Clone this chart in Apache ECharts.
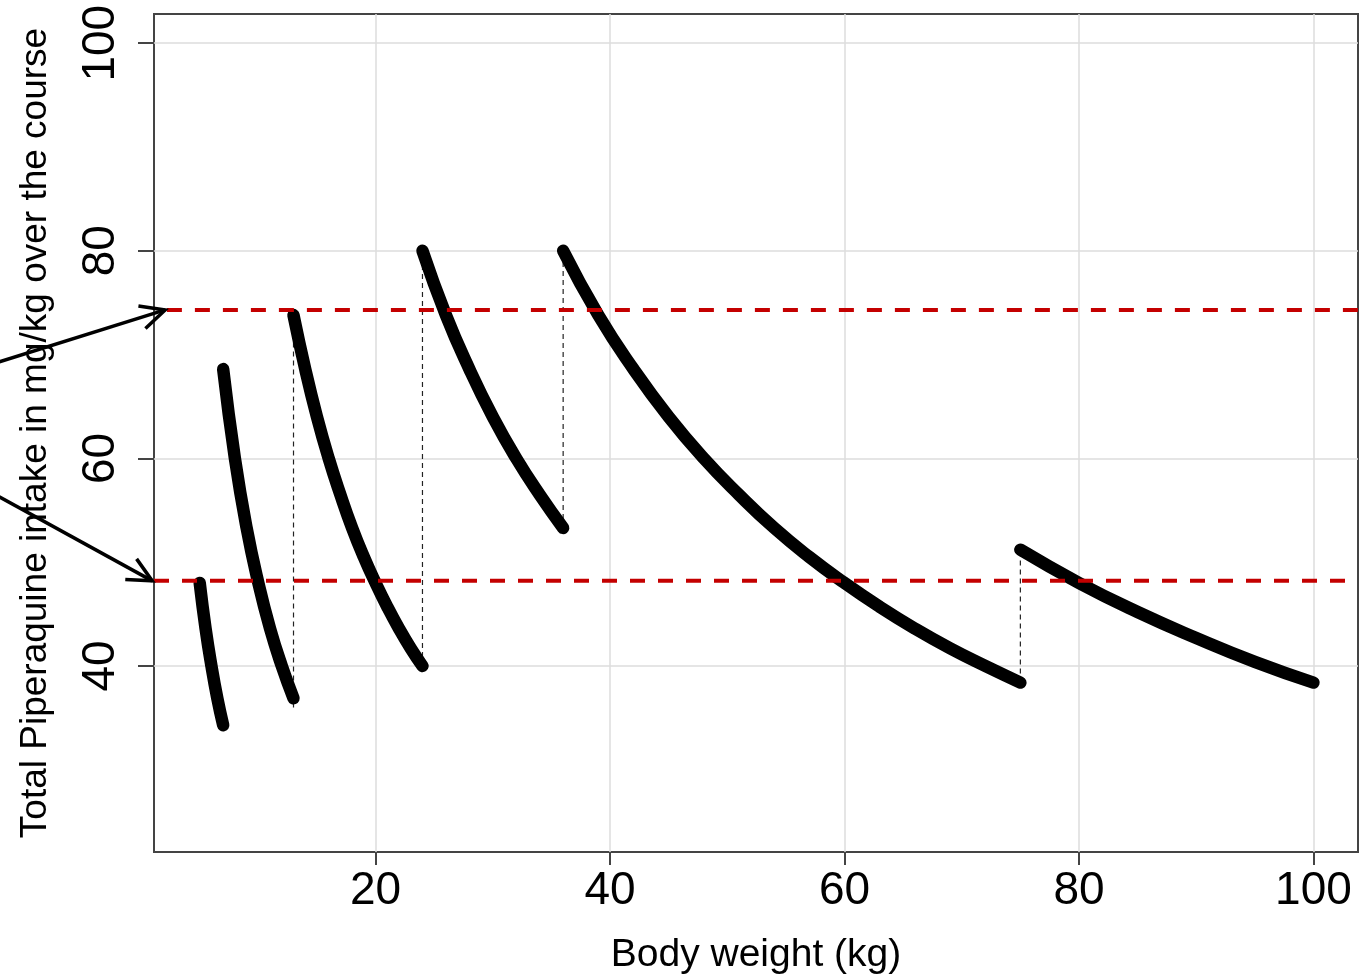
<!DOCTYPE html>
<html><head><meta charset="utf-8">
<script src="https://cdn.jsdelivr.net/npm/echarts@6/dist/echarts.min.js"></script>
<style>html,body{margin:0;padding:0;background:#fff}#c{width:1362px;height:980px}</style>
</head><body><div id="c"></div>
<script>
// ---- data ----
const xTickLabels = [20, 40, 60, 80, 100];
const yTickLabels = [40, 60, 80, 100];
const xTitle = 'Body weight (kg)';
const yTitle = 'Total Piperaquine intake in mg/kg over the course';

const seg1W = [5, 5.5, 6, 6.5, 7];
const seg1V = [48.0, 43.6, 40.0, 36.9, 34.3];
const seg2W = [7, 8, 9, 10, 11, 12, 13];
const seg2V = [68.6, 60.0, 53.3, 48.0, 43.6, 40.0, 36.9];
const seg3W = [13, 14, 15, 16, 17, 18, 19, 20, 21, 22, 23, 24];
const seg3V = [73.8, 68.6, 64.0, 60.0, 56.5, 53.3, 50.5, 48.0, 45.7, 43.6, 41.7, 40.0];
const seg4W = [24, 26, 28, 30, 32, 34, 36];
const seg4V = [80.0, 73.8, 68.6, 64.0, 60.0, 56.5, 53.3];
const seg5W = [36, 39, 42, 45, 48, 51, 54, 57, 60, 63, 66, 69, 72, 75];
const seg5V = [80.0, 73.8, 68.6, 64.0, 60.0, 56.5, 53.3, 50.5, 48.0, 45.7, 43.6, 41.7, 40.0, 38.4];
const seg6W = [75, 80, 85, 90, 95, 100];
const seg6V = [51.2, 48.0, 45.2, 42.7, 40.4, 38.4];

// dashed vertical jumps: weight, low, high
const jumpW = [13, 24, 36, 75];
const jumpLow = [36.0, 40.0, 53.3, 38.4];
const jumpHigh = [73.8, 80.0, 80.0, 51.2];

// red reference lines: level and start weight
const refLevel = [74.3, 48.2];
const refStart = [2.2, 1.1];

// annotation arrows: tail (x,y) -> head (x,y), in data units
const arrowTailX = [-12.1, -12.1];
const arrowTailY = [69.3, 56.3];
const arrowHeadX = [2.05, 0.95];
const arrowHeadY = [74.3, 48.2];

const X_MIN = 1.1, X_MAX = 103.8, Y_MIN = 22.08, Y_MAX = 102.81;
// ---------------------------------------

const zip = (w, v) => w.map((x, i) => [x, v[i]]);
const segs = [[seg1W, seg1V], [seg2W, seg2V], [seg3W, seg3V], [seg4W, seg4V], [seg5W, seg5V], [seg6W, seg6V]];

const series = [];
jumpW.forEach((w, i) => {
  series.push({
    type: 'line', z: 1, silent: true, showSymbol: false, symbol: 'none',
    data: [[w, jumpLow[i]], [w, jumpHigh[i]]],
    lineStyle: { color: '#222', width: 1.2, type: [5, 4] }
  });
});
segs.forEach(([w, v]) => {
  series.push({
    type: 'line', z: 3, silent: true, showSymbol: false, symbol: 'none', smooth: true,
    data: zip(w, v),
    lineStyle: { color: '#000', width: 12.5, cap: 'round', join: 'round' }
  });
});
refLevel.forEach((y, i) => {
  series.push({
    type: 'line', z: 4, silent: true, showSymbol: false, symbol: 'none',
    data: [[refStart[i], y], [X_MAX, y]],
    lineStyle: { color: '#C40000', width: 4, type: [15, 13] }
  });
});

const FONT = '"Liberation Sans", Arial, sans-serif';
const chart = echarts.init(document.getElementById('c'), null, { renderer: 'canvas' });
chart.setOption({
  backgroundColor: '#fff',
  animation: false,
  grid: { left: 154, right: 4, top: 14, bottom: 125, show: true, borderColor: '#444', borderWidth: 2, containLabel: false },
  xAxis: {
    type: 'value', min: X_MIN, max: X_MAX,
    name: xTitle, nameLocation: 'middle', nameGap: 84,
    nameTextStyle: { fontFamily: FONT, fontSize: 39, color: '#000' },
    axisLine: { show: false },
    axisTick: { show: true, length: 13, lineStyle: { color: '#444', width: 2 }, customValues: xTickLabels },
    axisLabel: { fontFamily: FONT, fontSize: 46, color: '#000', margin: 16, customValues: xTickLabels },
    splitLine: { show: true, lineStyle: { color: '#dcdcdc', width: 1.5 } }
  },
  yAxis: {
    type: 'value', min: Y_MIN, max: Y_MAX,
    name: yTitle, nameLocation: 'middle', nameGap: 100, nameRotate: 90,
    nameTextStyle: { fontFamily: FONT, fontSize: 37, color: '#000' },
    axisLine: { show: false },
    axisTick: { show: true, length: 16, lineStyle: { color: '#444', width: 2 }, customValues: yTickLabels },
    axisLabel: { fontFamily: FONT, fontSize: 46, color: '#000', margin: 30, rotate: 90, customValues: yTickLabels },
    splitLine: { show: true, lineStyle: { color: '#dcdcdc', width: 1.5 } }
  },
  series: series
});

// arrows (annotation) placed through the chart's own coordinate conversion
const graphics = [];
arrowTailX.forEach((tx, i) => {
  const t = chart.convertToPixel({ gridIndex: 0 }, [tx, arrowTailY[i]]);
  const h = chart.convertToPixel({ gridIndex: 0 }, [arrowHeadX[i], arrowHeadY[i]]);
  const ang = Math.atan2(h[1] - t[1], h[0] - t[0]);
  const L = 27, a = 0.45;
  const p1 = [h[0] - L * Math.cos(ang - a), h[1] - L * Math.sin(ang - a)];
  const p2 = [h[0] - L * Math.cos(ang + a), h[1] - L * Math.sin(ang + a)];
  graphics.push({ type: 'line', z: 10, shape: { x1: t[0], y1: t[1], x2: h[0], y2: h[1] }, style: { stroke: '#000', lineWidth: 3.5 } });
  graphics.push({ type: 'polyline', z: 10, shape: { points: [p1, h, p2] }, style: { stroke: '#000', lineWidth: 3.5, fill: null, lineJoin: 'miter' } });
});
chart.setOption({ graphic: graphics });
</script>
</body></html>
